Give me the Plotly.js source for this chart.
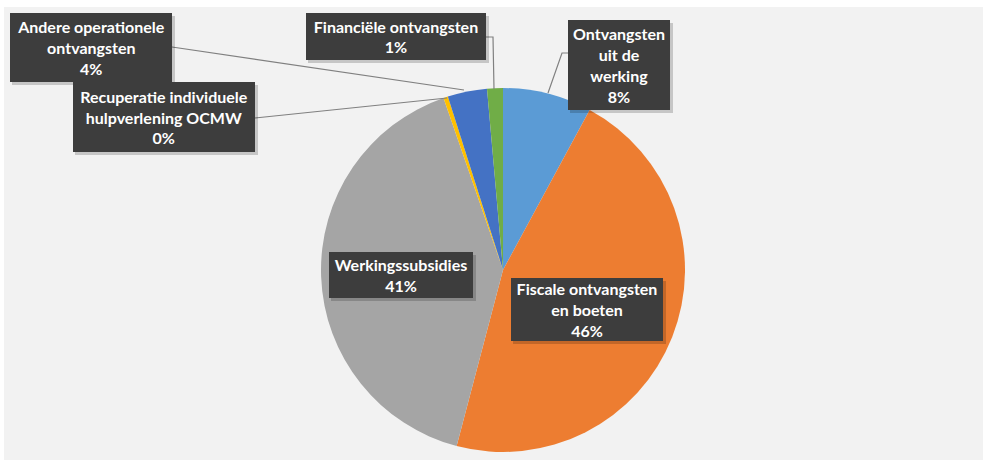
<!DOCTYPE html>
<html><head><meta charset="utf-8">
<script src="https://cdn.plot.ly/plotly-3.0.1.min.js"></script>
<style>html,body{margin:0;padding:0;background:#fff;}#chart{width:987px;height:464px;}</style>
</head><body><div id="chart"></div>
<script>
// Data
const categories = ["Ontvangsten uit de werking", "Fiscale ontvangsten en boeten", "Werkingssubsidies", "Recuperatie individuele hulpverlening OCMW", "Andere operationele ontvangsten", "Financiële ontvangsten"];
const values = [7.9, 46.2, 40.6, 0.4, 3.5, 1.4];
const labelTexts = ["Ontvangsten<br>uit de<br>werking<br>8%", "Fiscale ontvangsten<br>en boeten<br>46%", "Werkingssubsidies<br>41%", "Recuperatie individuele<br>hulpverlening OCMW<br>0%", "Andere operationele<br>ontvangsten<br>4%", "Financiële ontvangsten<br>1%"];
const colors = ["#5B9BD5", "#ED7D31", "#A5A5A5", "#FFC000", "#4472C4", "#70AD47"];

const W = 987, H = 464;
const px = x => x / W, py = y => 1 - y / H;

// label boxes: [x0, y0, x1, y1] in pixels
const boxes = [
  [568, 20, 670, 110],
  [511, 278, 663, 341],
  [329, 252, 473, 298],
  [73, 82, 255, 152],
  [10, 13, 172, 82],
  [306, 13, 486, 60]
];
// connector paths in pixels
const connectors = [
  [[568, 53], [562, 53], [548, 93]],
  null,
  null,
  [[255, 118], [447, 98]],
  [[172, 47], [464, 90]],
  [[486, 37], [493, 37], [494, 89]]
];

const shapes = [{
  type: "rect", xref: "paper", yref: "paper", layer: "below",
  x0: px(4), x1: px(983), y0: py(7), y1: py(460),
  fillcolor: "#f2f2f2", line: {width: 0}
}];
connectors.forEach(c => {
  if (!c) return;
  let d = c.map((p, i) => (i ? "L" : "M") + px(p[0]) + "," + py(p[1])).join(" ");
  shapes.push({type: "path", xref: "paper", yref: "paper", path: d, line: {color: "#808080", width: 1.2}});
});
boxes.forEach(b => {
  shapes.push({type: "rect", xref: "paper", yref: "paper", layer: "above",
    x0: px(b[0] + 2), x1: px(b[2] + 3), y0: py(b[1] + 3), y1: py(b[3] + 3),
    fillcolor: "rgba(0,0,0,0.18)", line: {width: 0}});
});

const annotations = boxes.map((b, i) => ({
  xref: "paper", yref: "paper",
  x: px((b[0] + b[2]) / 2), y: py((b[1] + b[3]) / 2),
  xanchor: "center", yanchor: "middle",
  width: b[2] - b[0], height: b[3] - b[1],
  text: labelTexts[i], showarrow: false, align: "center", valign: "middle",
  bgcolor: "#3d3d3d", borderpad: 0, borderwidth: 0,
  font: {family: "Lato, 'Open Sans', sans-serif", size: 16, color: "#ffffff", weight: 700}
}));

const trace = {
  type: "pie", labels: categories, values: values, sort: false,
  direction: "clockwise", rotation: 0,
  marker: {colors: colors, line: {width: 0}},
  textinfo: "none", hoverinfo: "label+percent",
  domain: {x: [px(321), px(685)], y: [py(452), py(88)]},
  showlegend: false
};

Plotly.newPlot("chart", [trace], {
  width: W, height: H, margin: {l: 0, r: 0, t: 0, b: 0},
  paper_bgcolor: "#ffffff", plot_bgcolor: "#ffffff",
  shapes: shapes, annotations: annotations, showlegend: false
}, {displayModeBar: false});
</script></body></html>
